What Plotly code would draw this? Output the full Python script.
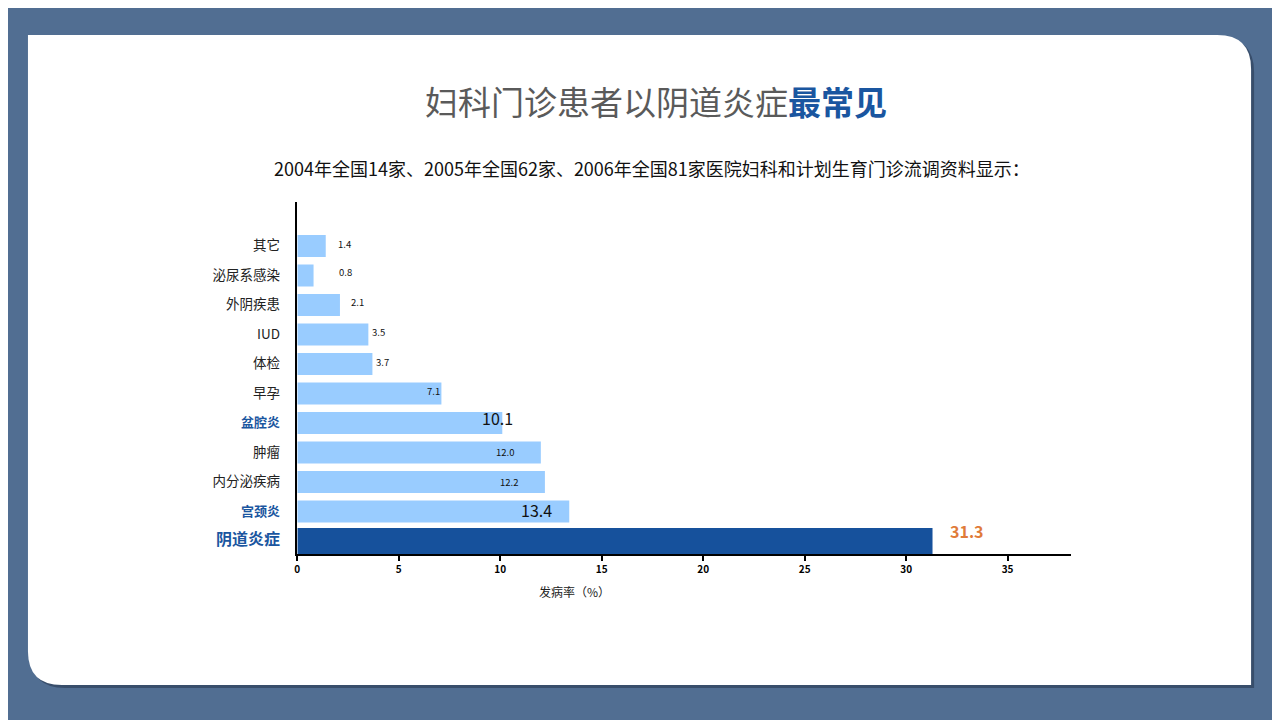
import plotly.graph_objects as go

# data (bottom to top)
categories = ["阴道炎症", "宫颈炎", "内分泌疾病", "肿瘤", "盆腔炎", "早孕", "体检", "IUD", "外阴疾患", "泌尿系感染", "其它"]
rates = [31.3, 13.4, 12.2, 12.0, 10.1, 7.1, 3.7, 3.5, 2.1, 0.8, 1.4]
rate_labels = ["31.3", "13.4", "12.2", "12.0", "10.1", "7.1", "3.7", "3.5", "2.1", "0.8", "1.4"]
x_ticks = [0, 5, 10, 15, 20, 25, 30, 35]

W, H = 1280, 720
OX, OY = -10, -8  # page offset seen in the screenshot
FONT = "Noto Sans CJK SC"

# per-bar styling
bar_colors = ["#16519C"] + ["#99CCFF"] * 10
bar_widths = [0.88] + [0.75] * 10
lbl_shift = [34, -33, -36, -36, -5, -8, 10, 10, 18, 32, 19]
lbl_yshift = [10, 2, 0, 0, 5, 2, 2, 2, 3, 3, 2]
lbl_size = [16, 16, 9.5, 9.5, 16, 9.5, 9.5, 9.5, 9.5, 9.5, 9.5]
lbl_color = ["#E07B39"] + ["#111111"] * 10
lbl_bold = [True] + [False] * 10

tick_style = {
    "阴道炎症": ("#1A56A0", 16, True),
    "宫颈炎": ("#1A56A0", 13, True),
    "盆腔炎": ("#1A56A0", 13, True),
}
tick_text = []
for c in categories:
    col, sz, bold = tick_style.get(c, ("#222222", 13.5, False))
    t = f"<span style='color:{col};font-size:{sz}px'>{c}</span>"
    if bold:
        t = "<b>" + t + "</b>"
    tick_text.append(t)


def fx(x):
    return (x + OX) / W


def fy(y):
    return 1 - (y + OY) / H


fig = go.Figure()
fig.add_trace(go.Bar(
    x=rates, y=categories, orientation="h",
    marker=dict(color=bar_colors, line=dict(width=0)),
    width=bar_widths, hoverinfo="x+y",
))

for c, v, t, dx, dy, s, col, b in zip(categories, rates, rate_labels, lbl_shift, lbl_yshift, lbl_size, lbl_color, lbl_bold):
    fig.add_annotation(
        x=v, y=c, xref="x", yref="y", text=f"<b>{t}</b>" if b else t,
        showarrow=False, xanchor="center", yanchor="middle",
        xshift=dx, yshift=dy, font=dict(family=FONT, size=s, color=col),
    )


def px(x, y):
    return f"{fx(x):.5f},{fy(y):.5f}"


def card_path(x0, y0, x1, y1, r):
    # square top-left / bottom-right, rounded top-right / bottom-left
    return (f"M{px(x0, y0)} L{px(x1 - r, y0)} Q{px(x1, y0)} {px(x1, y0 + r)} "
            f"L{px(x1, y1)} L{px(x0 + r, y1)} Q{px(x0, y1)} {px(x0, y1 - r)} Z")


fig.add_shape(type="path", xref="paper", yref="paper", layer="below",
              path=card_path(30, 38, 1256, 688, 34),
              fillcolor="rgba(20,30,50,0.4)", line=dict(width=0))
fig.add_shape(type="path", xref="paper", yref="paper", layer="below",
              path=card_path(27, 35, 1253, 685, 34),
              fillcolor="white", line=dict(width=0))

fig.add_annotation(
    x=fx(657), y=fy(101), xref="paper", yref="paper", showarrow=False,
    text="<span style='color:#5A5A5A'>妇科门诊患者以阴道炎症</span>"
         "<b><span style='color:#1A56A0'>最常见</span></b>",
    font=dict(family=FONT, size=33), xanchor="center", yanchor="middle",
)
fig.add_annotation(
    x=fx(653), y=fy(168), xref="paper", yref="paper", showarrow=False,
    text="2004年全国14家、2005年全国62家、2006年全国81家医院妇科和计划生育门诊流调资料显示：",
    font=dict(family=FONT, size=18, color="#111111"), xanchor="center", yanchor="middle",
)
fig.add_annotation(
    x=fx(575), y=fy(591), xref="paper", yref="paper", showarrow=False,
    text="发病率（%）", font=dict(family=FONT, size=12, color="#222222"),
    xanchor="center", yanchor="middle",
)

fig.update_layout(
    width=W, height=H,
    margin=dict(l=0, r=0, t=0, b=0),
    paper_bgcolor="#516E92", plot_bgcolor="rgba(0,0,0,0)",
    showlegend=False,
    font=dict(family=FONT),
    xaxis=dict(
        domain=[fx(297), fx(1072)], range=[0, 38.1],
        tickvals=x_ticks, ticks="outside", ticklen=5, tickwidth=2, tickcolor="black",
        tickfont=dict(family=FONT, size=10, color="black", weight="bold"),
        showline=True, linewidth=2, linecolor="black",
        showgrid=False, zeroline=False, fixedrange=True,
    ),
    yaxis=dict(
        domain=[fy(554), fy(202)], range=[-0.44, 11.49],
        tickmode="array", tickvals=categories, ticktext=tick_text,
        ticks="", ticklabelstandoff=13,
        showline=True, linewidth=2, linecolor="black",
        showgrid=False, zeroline=False, fixedrange=True,
    ),
)

fig.write_html("out.html")
